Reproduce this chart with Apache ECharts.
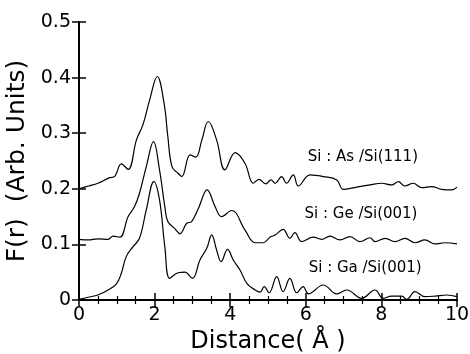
<!DOCTYPE html>
<html lang="en">
<head>
    <meta charset="UTF-8">
    <title>F(r) vs Distance</title>
    <script src="https://cdn.jsdelivr.net/npm/echarts@6/dist/echarts.min.js"></script>
    <style>
        html, body { margin: 0; padding: 0; background: #fff; }
        #chart { width: 470px; height: 354px; }
    </style>
</head>
<body>
<div id="chart"></div>
<script>
    // values: [distance, F(r)]
    var asSi111 = [
        [0, 0.200], [0.25, 0.205], [0.5, 0.210], [0.81, 0.220], [0.94, 0.222], [1.12, 0.245],
        [1.30, 0.235], [1.52, 0.288], [1.69, 0.315], [1.87, 0.360], [2.07, 0.402], [2.25, 0.354],
        [2.35, 0.294], [2.46, 0.240], [2.62, 0.228], [2.72, 0.222], [2.94, 0.261], [3.09, 0.257],
        [3.25, 0.288], [3.42, 0.321], [3.64, 0.288], [3.86, 0.234], [4.13, 0.265], [4.39, 0.246],
        [4.61, 0.210], [4.76, 0.217], [4.94, 0.209], [5.08, 0.216], [5.19, 0.210], [5.36, 0.222],
        [5.49, 0.210], [5.67, 0.225], [5.80, 0.205], [6.11, 0.225], [6.46, 0.222], [6.82, 0.216],
        [6.99, 0.199], [7.35, 0.203], [7.70, 0.207], [8.01, 0.210], [8.27, 0.207], [8.45, 0.213],
        [8.62, 0.205], [8.84, 0.210], [9.07, 0.202], [9.33, 0.204], [9.60, 0.199], [9.86, 0.198],
        [10, 0.203]
    ];
    var geSi001 = [
        [0, 0.109], [0.24, 0.108], [0.5, 0.110], [0.77, 0.109], [0.90, 0.115], [1.08, 0.113],
        [1.30, 0.150], [1.47, 0.168], [1.60, 0.192], [1.78, 0.240], [1.97, 0.285], [2.13, 0.234],
        [2.27, 0.168], [2.35, 0.141], [2.54, 0.128], [2.67, 0.119], [2.85, 0.138], [2.98, 0.141],
        [3.16, 0.165], [3.39, 0.198], [3.60, 0.168], [3.77, 0.150], [4.04, 0.161], [4.39, 0.126],
        [4.66, 0.103], [4.88, 0.103], [5.05, 0.113], [5.19, 0.117], [5.40, 0.127], [5.58, 0.111],
        [5.71, 0.121], [5.89, 0.105], [6.20, 0.113], [6.42, 0.109], [6.64, 0.115], [6.90, 0.108],
        [7.17, 0.114], [7.43, 0.105], [7.70, 0.112], [7.83, 0.105], [8.10, 0.111], [8.36, 0.105],
        [8.62, 0.111], [8.89, 0.103], [9.15, 0.108], [9.42, 0.101], [9.68, 0.103], [10, 0.101]
    ];
    var gaSi001 = [
        [0, 0.001], [0.24, 0.005], [0.5, 0.009], [0.77, 0.018], [0.99, 0.029], [1.12, 0.048],
        [1.25, 0.078], [1.43, 0.096], [1.60, 0.111], [1.78, 0.162], [1.98, 0.213], [2.13, 0.180],
        [2.27, 0.096], [2.40, 0.039], [2.62, 0.049], [2.80, 0.050], [3.00, 0.039], [3.20, 0.072],
        [3.38, 0.093], [3.51, 0.117], [3.64, 0.090], [3.76, 0.069], [3.93, 0.091], [4.08, 0.072],
        [4.26, 0.054], [4.44, 0.030], [4.66, 0.018], [4.79, 0.014], [4.90, 0.024], [5.03, 0.013],
        [5.23, 0.042], [5.40, 0.015], [5.58, 0.039], [5.76, 0.013], [5.93, 0.024], [6.07, 0.011],
        [6.46, 0.027], [6.82, 0.011], [7.08, 0.018], [7.48, 0.003], [7.83, 0.018], [8.05, 0.003],
        [8.27, 0.007], [8.54, 0.007], [8.67, 0.001], [8.89, 0.015], [9.15, 0.006], [9.42, 0.007],
        [9.73, 0.009], [10, 0.006]
    ];
    var labels = ['Si : As /Si(111)', 'Si : Ge /Si(001)', 'Si : Ga /Si(001)'];
    var labelSpots = [[7.51, 0.257], [7.46, 0.155], [7.57, 0.058]];

    var font = '"DejaVu Sans", Verdana, sans-serif';

    function makeSeries(name, data, idx) {
        return {
            name: name,
            type: 'line',
            data: data,
            smooth: 0.4,
            symbol: 'none',
            lineStyle: { color: '#000', width: 1.2 },
            markPoint: {
                symbol: 'rect',
                symbolSize: 1,
                itemStyle: { color: 'rgba(0,0,0,0)' },
                data: [{
                    coord: labelSpots[idx],
                    label: {
                        show: true,
                        position: 'inside',
                        formatter: labels[idx],
                        color: '#000',
                        fontFamily: font,
                        fontSize: 15
                    }
                }]
            }
        };
    }

    var chart = echarts.init(document.getElementById('chart'));
    chart.setOption({
        animation: false,
        backgroundColor: '#fff',
        grid: { left: 79, right: 13, top: 22, bottom: 54, outerBoundsMode: 'none', containLabel: false },
        xAxis: [{
            type: 'value', min: 0, max: 10, interval: 2,
            name: 'Distance( Å )', nameLocation: 'middle', nameGap: 28,
            nameTextStyle: { color: '#000', fontSize: 24, fontFamily: font },
            axisLine: { lineStyle: { color: '#000', width: 2 } },
            axisTick: { inside: true, length: 7, lineStyle: { color: '#000', width: 1.5 } },
            minorTick: { show: true, splitNumber: 4, length: 4, lineStyle: { color: '#000', width: 1.2 } },
            axisLabel: { color: '#000', fontSize: 19, fontFamily: font, margin: 6 },
            splitLine: { show: false }
        }, {
            type: 'value', min: 0, max: 10, interval: 2, position: 'top',
            axisLine: { lineStyle: { color: '#000', width: 2 } },
            axisTick: { inside: true, length: 7, lineStyle: { color: '#000', width: 1.5 } },
            minorTick: { show: true, splitNumber: 4, length: 4, lineStyle: { color: '#000', width: 1.2 } },
            axisLabel: { show: false },
            splitLine: { show: false }
        }],
        yAxis: [{
            type: 'value', min: 0, max: 0.5, interval: 0.1,
            name: 'F(r)  (Arb. Units)', nameLocation: 'middle', nameGap: 42,
            nameTextStyle: { color: '#000', fontSize: 25, fontFamily: font },
            axisLine: { lineStyle: { color: '#000', width: 2 } },
            axisTick: { inside: true, length: 7, lineStyle: { color: '#000', width: 1.5 } },
            axisLabel: { color: '#000', fontSize: 19, fontFamily: font, margin: 8 },
            splitLine: { show: false }
        }, {
            type: 'value', min: 0, max: 0.5, interval: 0.1, position: 'right',
            axisLine: { show: true, lineStyle: { color: '#000', width: 2 } },
            axisTick: { show: true, inside: true, length: 7, lineStyle: { color: '#000', width: 1.5 } },
            axisLabel: { show: false },
            splitLine: { show: false }
        }],
        series: [
            makeSeries('As', asSi111, 0),
            makeSeries('Ge', geSi001, 1),
            makeSeries('Ga', gaSi001, 2)
        ]
    });
</script>
</body>
</html>
